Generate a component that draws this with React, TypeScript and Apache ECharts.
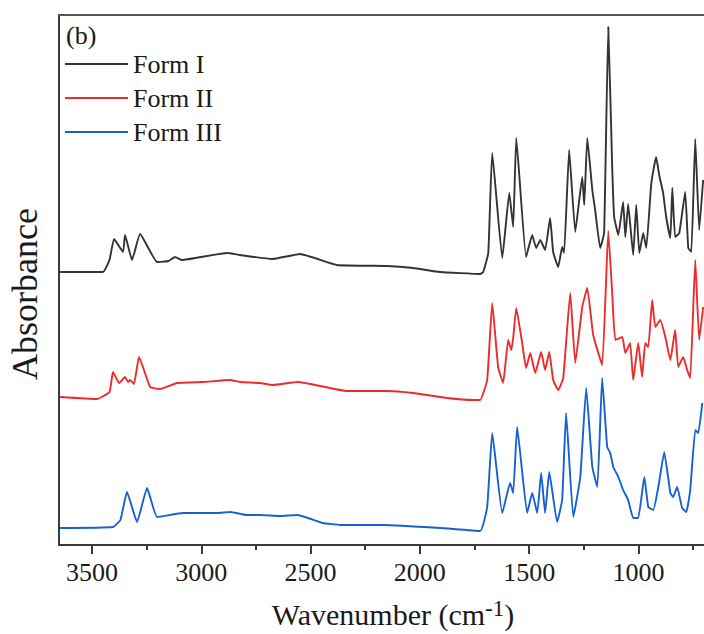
import React, { useEffect, useRef } from "react";
import * as echarts from "echarts";

// Form I (black) spectrum readings: wavenumber (cm-1) and offset absorbance
const formIWavenumbers = [3646,3450,3420,3399,3358,3349,3317,3280,3202,3150,3120,3090,2882,2823,2676,2548,2379,2150,2031,1907,1724,1710,1687,1669,1623,1591,1573,1559,1514,1486,1468,1449,1427,1404,1390,1367,1349,1340,1317,1289,1257,1248,1234,1211,1198,1175,1157,1138,1120,1111,1092,1070,1060,1047,1024,1010,996,978,964,941,919,905,887,873,854,845,832,813,786,772,758,740,722,704];
const formIValues = [2.73,2.73,2.85,3.06,2.93,3.10,2.85,3.11,2.83,2.84,2.88,2.85,2.92,2.90,2.86,2.91,2.80,2.79,2.77,2.73,2.71,2.73,2.92,3.92,2.87,3.52,3.18,4.07,2.88,3.10,2.97,3.05,2.95,3.27,2.93,2.78,2.98,2.92,3.95,3.13,3.68,3.40,4.07,3.55,3.35,2.97,3.12,5.18,3.78,3.28,3.10,3.43,3.08,3.41,2.90,3.40,2.92,3.12,2.97,3.62,3.88,3.70,3.52,3.28,3.07,3.57,3.08,3.12,3.53,2.97,2.93,4.06,3.15,3.65];

// Form II (red)
const formIIWavenumbers = [3646,3477,3420,3404,3376,3349,3335,3326,3308,3285,3234,3189,3111,2992,2868,2823,2731,2676,2557,2333,2150,2031,1875,1756,1724,1692,1669,1642,1619,1596,1582,1573,1559,1532,1514,1495,1472,1445,1427,1408,1390,1367,1344,1312,1289,1257,1234,1207,1166,1138,1120,1106,1074,1060,1038,1024,1001,983,969,955,937,923,900,877,854,832,818,795,777,763,740,722,704];
const formIIValues = [1.48,1.46,1.53,1.73,1.62,1.68,1.63,1.65,1.61,1.88,1.58,1.56,1.62,1.63,1.65,1.63,1.62,1.60,1.63,1.54,1.54,1.52,1.47,1.45,1.45,1.65,2.42,1.78,1.62,2.05,1.95,2.07,2.37,2.02,1.77,1.92,1.72,1.93,1.75,1.93,1.65,1.55,1.67,2.52,1.82,2.38,2.57,2.10,1.80,3.14,2.52,2.05,2.08,1.92,2.02,1.65,2.02,1.68,2.02,1.98,2.45,2.18,2.25,2.08,1.85,2.15,1.78,1.88,1.75,1.67,2.85,2.05,2.38];

// Form III (blue)
const formIIIWavenumbers = [3646,3404,3370,3340,3294,3248,3202,3083,2928,2868,2791,2731,2640,2562,2443,2365,2168,1907,1724,1692,1669,1623,1587,1573,1555,1509,1486,1463,1445,1427,1408,1372,1349,1331,1298,1266,1239,1211,1188,1166,1143,1129,1115,1092,1070,1047,1024,1001,973,955,932,909,882,854,841,823,800,781,763,740,726,708];
const formIIIValues = [0.17,0.18,0.25,0.53,0.23,0.57,0.28,0.32,0.32,0.33,0.30,0.30,0.29,0.30,0.22,0.20,0.20,0.17,0.14,0.38,1.12,0.32,0.62,0.52,1.18,0.32,0.52,0.32,0.72,0.32,0.73,0.23,0.45,1.32,0.28,0.68,1.57,0.78,0.58,1.67,0.98,0.92,0.78,0.68,0.55,0.45,0.27,0.27,0.68,0.38,0.35,0.58,0.93,0.52,0.48,0.58,0.37,0.33,0.55,1.15,1.12,1.42];

const seriesNames = ["Form I", "Form II", "Form III"];
const majorTicks = [3500, 3000, 2500, 2000, 1500, 1000];
const minorTicks = [3250, 2750, 2250, 1750, 1250, 750];

const FONT = "'Liberation Serif', 'Times New Roman', serif";

function pairs(xs: number[], ys: number[]) {
  return xs.map((x, i) => [x, ys[i]]);
}

export default function App() {
  const ref = useRef<HTMLDivElement>(null);
  useEffect(() => {
    if (!ref.current) return;
    const chart = echarts.init(ref.current, undefined, { renderer: "svg" });
    const xRange = { min: 700, max: 3651 };
    const lineSeries = (name: string, xs: number[], ys: number[], color: string) => ({
      name,
      type: "line",
      xAxisIndex: 0,
      data: pairs(xs, ys),
      showSymbol: false,
      smooth: 0.12,
      lineStyle: { color, width: 1.9 },
      itemStyle: { color },
    });
    chart.setOption({
      animation: false,
      backgroundColor: "#ffffff",
      grid: { left: 59, right: 0, top: 15, bottom: 89 },
      legend: {
        data: seriesNames,
        orient: "vertical",
        left: 60,
        top: 46,
        icon: "rect",
        itemWidth: 63,
        itemHeight: 2,
        itemGap: 8,
        textStyle: { fontFamily: FONT, fontSize: 26, color: "#1a1a1a", lineHeight: 26 },
      },
      xAxis: [
        {
          type: "value",
          inverse: true,
          ...xRange,
          position: "bottom",
          axisLine: { show: true, lineStyle: { color: "#3a3a3a", width: 2 } },
          axisTick: { show: true, customValues: majorTicks, length: 9, lineStyle: { color: "#3a3a3a", width: 2 } },
          axisLabel: {
            show: true,
            customValues: majorTicks,
            formatter: (v: number) => String(v),
            margin: 14,
            fontFamily: FONT,
            fontSize: 26,
            color: "#1a1a1a",
          },
          splitLine: { show: false },
        },
        {
          type: "value",
          inverse: true,
          ...xRange,
          position: "bottom",
          axisLine: { show: false },
          axisTick: { show: true, customValues: minorTicks, length: 5, lineStyle: { color: "#3a3a3a", width: 2 } },
          axisLabel: { show: false },
          splitLine: { show: false },
        },
        {
          type: "value",
          inverse: true,
          ...xRange,
          position: "top",
          axisLine: { show: true, lineStyle: { color: "#555", width: 2 } },
          axisTick: { show: false },
          axisLabel: { show: false },
          splitLine: { show: false },
        },
      ],
      yAxis: {
        type: "value",
        min: 0,
        max: 5.3,
        axisLine: { show: true, lineStyle: { color: "#3a3a3a", width: 2 } },
        axisTick: { show: false },
        axisLabel: { show: false },
        splitLine: { show: false },
      },
      graphic: [
        {
          type: "text",
          left: 66,
          top: 22,
          style: { text: "(b)", font: `26px ${FONT}`, fill: "#1a1a1a" },
        },
        {
          type: "text",
          x: 25,
          y: 294,
          rotation: Math.PI / 2,
          style: {
            text: "Absorbance",
            font: `36px ${FONT}`,
            fill: "#1a1a1a",
            align: "center",
            verticalAlign: "middle",
          },
        },
        {
          type: "text",
          x: 393,
          y: 614,
          style: {
            text: "{a|Wavenumber (cm}{b|-1}{a|)}",
            align: "center",
            verticalAlign: "middle",
            rich: {
              a: { fontFamily: FONT, fontSize: 30, fill: "#1a1a1a", color: "#1a1a1a" },
              b: { fontFamily: FONT, fontSize: 23, fill: "#1a1a1a", color: "#1a1a1a", padding: [0, 0, 12, 0] },
            },
          },
        },
      ],
      series: [
        lineSeries(seriesNames[0], formIWavenumbers, formIValues, "#333333"),
        lineSeries(seriesNames[1], formIIWavenumbers, formIIValues, "#ee2a2a"),
        lineSeries(seriesNames[2], formIIIWavenumbers, formIIIValues, "#1560d2"),
      ],
    });
    return () => chart.dispose();
  }, []);
  return (
    <div
      ref={ref}
      style={{ position: "absolute", left: 0, top: 0, width: 704, height: 634, background: "#fff" }}
    />
  );
}
